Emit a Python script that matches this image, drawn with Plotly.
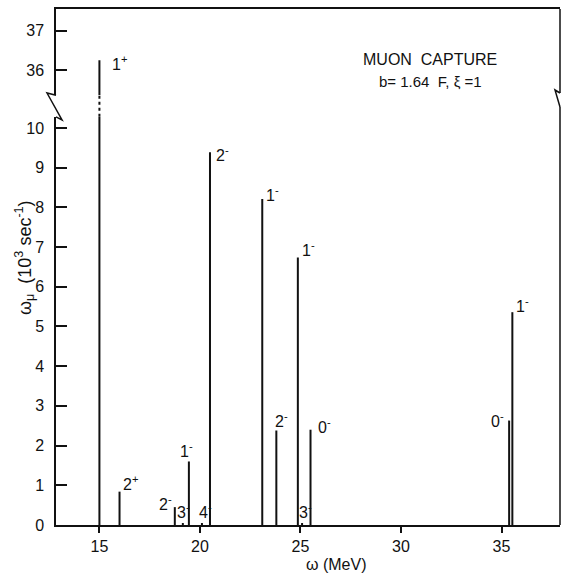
import plotly.graph_objects as go

# ---- data ----
energies = [15.0, 16.0, 18.75, 19.15, 19.45, 20.1, 20.5, 23.1, 23.8, 24.87, 25.08, 25.5, 35.38, 35.54]
rates = [36.25, 0.84, 0.45, 0.05, 1.6, 0.05, 9.39, 8.21, 2.38, 6.74, 0.05, 2.4, 2.63, 5.36]
labels = ["1<sup>+</sup>", "2<sup>+</sup>", "2<sup>-</sup>", "3<sup>-</sup>", "1<sup>-</sup>", "4<sup>-</sup>",
          "2<sup>-</sup>", "1<sup>-</sup>", "2<sup>-</sup>", "1<sup>-</sup>", "3<sup>-</sup>",
          "0<sup>-</sup>", "0<sup>-</sup>", "1<sup>-</sup>"]
x_ticks = [15, 20, 25, 30, 35]
y_low_ticks = [0, 1, 2, 3, 4, 5, 6, 7, 8, 9, 10]
y_high_ticks = [36, 37]

# ---- styles / layout geometry ----
label_shift = [(20, -3), (11, 9), (-9, 4), (1, 12), (-2, 11), (4, 12), (13, -2),
               (10, 5), (5, 11), (11, 8), (3, 12), (14, 4), (-12, 1), (10, 7)]
W, H = 563, 576
ML, MR, MT, MB = 56, 3, 9, 51
PW, PH = W - ML - MR, H - MT - MB
X_RANGE = [12.84, 37.91]
LOW_RANGE = [0, 10.28]
HIGH_RANGE = [35.365, 37.554]
LOW_DOM = [0, 0.791]
HIGH_DOM = [0.833, 1]
FONT = "Liberation Sans"
INK = "#111111"


def px(xp):
    return (xp - ML) / PW


def py(yp):
    return (H - MB - yp) / PH


lx, ly, hx, hy = [], [], [], []
for e, r in zip(energies, rates):
    lx += [e, e, None]
    ly += [0, min(r, LOW_RANGE[1]), None]
    if r > LOW_RANGE[1]:
        hx += [e, e, None]
        hy += [HIGH_RANGE[0], r, None]

fig = go.Figure()
fig.add_trace(go.Scatter(x=lx, y=ly, mode="lines", line=dict(color=INK, width=2),
                         xaxis="x", yaxis="y", showlegend=False, hoverinfo="skip"))
fig.add_trace(go.Scatter(x=hx, y=hy, mode="lines", line=dict(color=INK, width=2),
                         xaxis="x2", yaxis="y2", showlegend=False, hoverinfo="skip"))

annotations = []
for e, r, t, (dx, dy) in zip(energies, rates, labels, label_shift):
    high = r > LOW_RANGE[1]
    annotations.append(dict(x=e, y=r, xref="x2" if high else "x", yref="y2" if high else "y",
                            text=t, showarrow=False, xanchor="center", yanchor="middle",
                            xshift=dx, yshift=dy, font=dict(family=FONT, size=16, color=INK)))

annotations += [
    dict(x=px(430), y=py(60), xref="paper", yref="paper", text="MUON  CAPTURE", showarrow=False,
         xanchor="center", yanchor="middle", font=dict(family=FONT, size=16, color=INK)),
    dict(x=px(430), y=py(81), xref="paper", yref="paper", text="b= 1.64  F, \u03be =1", showarrow=False,
         xanchor="center", yanchor="middle", font=dict(family=FONT, size=15, color=INK)),
    dict(x=px(24), y=py(258), xref="paper", yref="paper",
         text="\u03c9<sub>\u03bc</sub>  (10<sup>3</sup> sec<sup>-1</sup>)", textangle=-90,
         xanchor="center", yanchor="middle",
         showarrow=False, font=dict(family=FONT, size=18, color=INK)),
    dict(x=px(336), y=py(575), xref="paper", yref="paper", text="\u03c9 (MeV)", showarrow=False,
         xanchor="center", yanchor="bottom", font=dict(family=FONT, size=16, color=INK)),
]

line_style = dict(color=INK, width=1.5)
shapes = [
    # dotted continuation of the 1+ bar across the axis break
    dict(type="line", xref="x", yref="paper", x0=energies[0], x1=energies[0],
         y0=LOW_DOM[1], y1=HIGH_DOM[0], line=dict(color=INK, width=2, dash="dot")),
    # left break mark
    dict(type="path", xref="paper", yref="paper",
         path=f"M {px(56)},{py(95.2)} L {px(47)},{py(93)} L {px(62)},{py(120)} L {px(56)},{py(116.8)}",
         line=line_style),
    # right border with break
    dict(type="line", xref="paper", yref="paper", x0=1, x1=1, y0=py(93), y1=1, line=line_style),
    dict(type="path", xref="paper", yref="paper",
         path=f"M {px(560)},{py(93)} L {px(555)},{py(90)} L {px(560)},{py(107)}",
         line=line_style),
    dict(type="line", xref="paper", yref="paper", x0=1, x1=1, y0=0, y1=py(107), line=line_style),
]

axis_common = dict(showgrid=False, zeroline=False, showline=True, linecolor=INK, linewidth=1.5,
                   tickcolor=INK, tickwidth=1.5, tickfont=dict(family=FONT, size=16, color=INK))

fig.update_layout(
    width=W, height=H, margin=dict(l=ML, r=MR, t=MT, b=MB),
    paper_bgcolor="white", plot_bgcolor="white",
    xaxis=dict(domain=[0, 1], range=X_RANGE, anchor="y", tickvals=x_ticks, ticks="outside",
               ticklen=6, **axis_common),
    xaxis2=dict(domain=[0, 1], range=X_RANGE, anchor="y2", side="top", matches="x",
                showticklabels=False, ticks="", showgrid=False, zeroline=False, showline=True,
                linecolor=INK, linewidth=1.5),
    yaxis=dict(domain=LOW_DOM, range=LOW_RANGE, anchor="x", tickvals=y_low_ticks, ticks="inside",
               ticklen=11, ticklabelstandoff=7, **axis_common),
    yaxis2=dict(domain=HIGH_DOM, range=HIGH_RANGE, anchor="x2", tickvals=y_high_ticks, ticks="inside",
                ticklen=11, ticklabelstandoff=7, **axis_common),
    annotations=annotations, shapes=shapes, showlegend=False,
)

fig.write_html("out.html")
